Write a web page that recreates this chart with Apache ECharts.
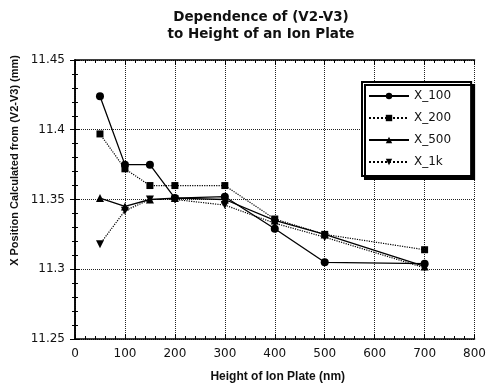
<!DOCTYPE html>
<html>
<head>
<meta charset="utf-8">
<script src="https://cdn.jsdelivr.net/npm/echarts@6/dist/echarts.min.js"></script>
<style>
  html, body { margin: 0; padding: 0; background: #fff; }
  #main { width: 489px; height: 388px; }
</style>
</head>
<body>
<div id="main"></div>
<script>
// heights of the ion plate (nm)
var heights = [50, 100, 150, 200, 300, 400, 500, 700];

// X position (mm) per series
var x100 = [11.424, 11.375, 11.375, 11.351, 11.352, 11.329, 11.305, 11.304];
var x200 = [11.397, 11.372, 11.360, 11.360, 11.360, 11.336, 11.325, 11.314];
var x500 = [11.351, 11.345, 11.350, 11.351, 11.350, 11.335, 11.325, 11.302];
var x1k  = [11.318, 11.342, 11.350, 11.350, 11.346, 11.333, 11.323, 11.301];

var seriesNames = ["X_100", "X_200", "X_500", "X_1k"];
var yTitle = "X Position Calculated from (V2-V3) (mm)";
var xTitle = "Height of Ion Plate (nm)";

function pairs(vals) {
  return heights.map(function (h, i) { return [h, vals[i]]; });
}

var chart = echarts.init(document.getElementById("main"), null, { renderer: "canvas" });

var labelFont = { fontFamily: "DejaVu Sans", fontSize: 12, color: "#111" };

function mkSeries(name, vals, symbol, lineType, rot) {
  return {
    name: name,
    type: "line",
    data: pairs(vals),
    symbol: symbol,
    symbolSize: symbol === "rect" ? 7 : 8,
    symbolRotate: rot || 0,
    lineStyle: { color: "#000", width: lineType === "solid" ? 1.3 : 1.2, type: lineType },
    itemStyle: { color: "#000" },
    emphasis: { disabled: true },
    animation: false
  };
}

// mirrored frame axes (ticks only)
function frameAxis(pos, min, max, interval) {
  return {
    type: "value", position: pos,
    min: min, max: max, interval: interval,
    axisLine: { show: true, lineStyle: { color: "#000", width: 1.5 } },
    axisTick: { inside: true, length: 5, lineStyle: { color: "#000" } },
    minorTick: { show: true, splitNumber: 5, length: 3, lineStyle: { color: "#000" } },
    axisLabel: { show: false },
    splitLine: { show: false }
  };
}

var option = {
  backgroundColor: "#fff",
  title: {
    text: "Dependence of (V2-V3)\nto Height of an Ion Plate",
    left: 256,
    textAlign: "center",
    top: 4,
    textStyle: { fontFamily: "DejaVu Sans", fontWeight: "bold", fontSize: 13.5, lineHeight: 17, color: "#111" }
  },
  legend: {
    orient: "vertical",
    left: 362,
    top: 82,
    itemWidth: 40,
    itemHeight: 8,
    itemGap: 10,
    padding: [8, 20, 8, 6],
    backgroundColor: "#fff",
    borderColor: "#000",
    borderWidth: 2,
    shadowColor: "#000",
    shadowOffsetX: 3,
    shadowOffsetY: 3,
    shadowBlur: 0,
    textStyle: { fontFamily: "DejaVu Sans", fontSize: 12, color: "#111" },
    data: seriesNames
  },
  graphic: [{
    type: "text",
    left: 9,
    top: 55,
    rotation: Math.PI / 2,
    style: {
      text: yTitle,
      fontFamily: "Liberation Sans",
      fontWeight: "bold",
      fontSize: 11,
      fill: "#111"
    }
  }],
  grid: { left: 75, right: 10, top: 60, bottom: 45 },
  xAxis: [{
    type: "value",
    min: 0, max: 800, interval: 100,
    name: xTitle,
    nameLocation: "middle",
    nameGap: 32,
    nameTextStyle: { fontFamily: "Liberation Sans", fontWeight: "bold", fontSize: 12, color: "#111", padding: [0, 0, 0, 6] },
    axisLine: { lineStyle: { color: "#000", width: 1.5 } },
    axisTick: { inside: true, length: 5, lineStyle: { color: "#000" } },
    minorTick: { show: true, splitNumber: 5, length: 3, lineStyle: { color: "#000" } },
    axisLabel: Object.assign({ margin: 9 }, labelFont),
    splitLine: { show: true, lineStyle: { color: "#222", type: "dotted", width: 1 } }
  }, frameAxis("top", 0, 800, 100)],
  yAxis: [{
    type: "value",
    min: 11.25, max: 11.45, interval: 0.05,
    axisLine: { show: true, lineStyle: { color: "#000", width: 1.5 } },
    axisTick: { inside: true, length: 5, lineStyle: { color: "#000" } },
    minorTick: { show: true, splitNumber: 5, length: 3, lineStyle: { color: "#000" } },
    axisLabel: Object.assign({ margin: 10, formatter: function (v) { return String(+v.toFixed(2)); } }, labelFont),
    splitLine: { show: true, lineStyle: { color: "#222", type: "dotted", width: 1 } }
  }, frameAxis("right", 11.25, 11.45, 0.05)],
  series: [
    mkSeries("X_100", x100, "circle", "solid"),
    mkSeries("X_200", x200, "rect", "dotted"),
    mkSeries("X_500", x500, "triangle", "solid"),
    mkSeries("X_1k", x1k, "triangle", "dotted", 180)
  ]
};

chart.setOption(option);
</script>
</body>
</html>
